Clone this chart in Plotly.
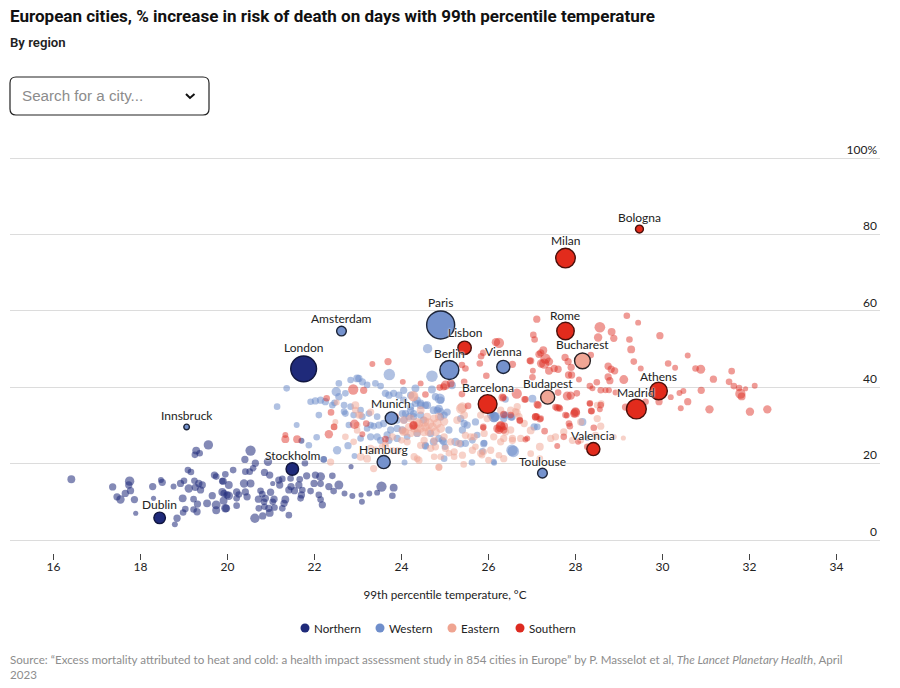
import math
import plotly.graph_objects as go

# Rows are (99th percentile temperature in C, % increase in risk, population in millions)
north_points = [
(16.41,15.9,.7),(17.36,13.9,.6),(17.75,15.4,1.0),(17.73,14.4,.6),(17.77,12.9,.6),(17.65,12.2,.6),(17.46,11.3,.6),(17.54,10.6,.8),
(17.86,10.6,.6),(17.89,7.0,.3),(18.28,14.0,.6),(18.47,15.7,.4),(18.50,15.1,.6),(18.76,14.0,.4),(18.92,14.8,.6),(19.0,15.5,.5),
(19.09,18.3,.5),(19.16,17.8,.5),(19.28,23.4,.7),(19.36,22.7,.5),(19.25,22.3,.5),(19.56,24.9,1.0),(19.24,15.5,.5),(19.34,14.8,.6),
(19.11,13.5,.8),(19.26,13.8,.6),(19.42,14.4,.6),(19.38,13.1,.6),(18.97,10.9,.7),(19.22,10.7,.5),(19.31,9.4,.6),(19.03,8.1,.5),
(18.98,7.2,.5),(18.84,5.7,.6),(18.79,4.1,.4),(19.22,8.0,.5),(19.30,7.4,.6),(18.30,10.9,.3),(19.53,9.6,.7),(19.65,11.6,.6),
(19.74,9.2,.9),(19.74,7.8,.7),(19.91,10.3,.7),(19.97,8.3,.7),(19.88,12.6,.7),(19.99,11.8,.6),(19.70,17.0,.6),(19.74,16.6,.5),
(19.88,15.4,.5),(19.95,17.2,.5),(20.03,14.4,.7),(20.53,23.4,1.2),(20.40,21.1,.6),(20.64,20.1,.6),(20.93,20.5,.8),(20.13,18.3,.5),
(20.41,17.9,.5),(20.51,17.9,.5),(20.59,18.8,.5),(20.85,17.7,.6),(20.97,17.0,.6),(19.90,15.4,.6),(20.38,14.8,.8),(20.53,14.8,.7),
(21.04,14.8,.3),(21.18,15.7,.6),(21.26,16.0,.5),(21.20,14.4,.6),(21.45,16.1,.5),(21.66,15.9,.5),(21.82,16.8,.6),(22.02,17.0,.6),
(22.14,16.6,.9),(22.41,16.8,.5),(21.99,14.8,.6),(22.14,14.7,.5),(22.33,14.0,.6),(22.56,14.4,.9),(22.44,12.8,.5),(22.69,12.2,.4),
(22.87,11.5,.4),(23.07,11.8,.3),(23.26,12.2,.4),(23.09,10.0,.4),(23.44,12.4,.4),(23.54,14.0,1.2),(23.82,13.7,.7),(23.79,11.6,.5),
(19.92,12.2,.6),(20.03,11.6,.8),(19.95,8.3,.8),(20.21,12.6,.6),(20.26,11.9,.5),(20.41,12.6,.6),(20.21,10.9,.5),(20.21,9.0,.5),
(20.45,11.3,.6),(20.76,12.9,.5),(20.99,12.5,.6),(20.80,12.0,.5),(20.71,10.7,.6),(20.87,10.9,.6),(21.07,10.7,.6),(21.04,10.0,.5),
(21.33,10.6,.7),(21.30,9.6,.6),(21.41,13.1,.6),(21.54,12.9,.6),(21.70,11.8,.6),(21.68,10.9,.5),(21.64,14.4,.6),(21.91,12.8,.5),
(22.10,11.8,.5),(22.14,10.6,.5),(22.18,9.2,.6),(21.72,13.1,.5),(20.84,10.0,.5),(20.72,8.3,.5),(20.85,8.7,.5),(20.95,8.3,.6),
(21.08,8.5,.5),(20.97,7.1,.7),(20.81,6.3,.6),(20.63,5.7,1.0),(21.26,8.3,.5),(21.41,6.5,.5),(21.46,14.0,.6),(21.78,20.1,.5),
(22.21,21.1,.5),(22.84,19.2,.3),(21.70,26.0,.4),
]
west_points = [
(23.72,43.3,1.5),(23.02,42.3,.6),(22.83,41.9,.5),(22.56,41.0,.5),(23.10,41.4,.6),(23.40,41.0,.5),(23.52,40.3,.5),(21.36,39.7,.5),
(22.50,38.8,1.0),(22.56,37.5,.6),(21.91,36.2,.5),(22.02,36.4,.6),(22.14,36.6,.6),(22.25,36.2,.6),(22.46,35.9,.5),(22.68,35.3,.5),
(21.14,34.9,.5),(22.10,32.7,.5),(22.71,33.1,.5),(22.90,32.7,.5),(23.10,32.3,.5),(23.25,33.1,.5),(23.44,32.3,.5),(23.63,38.4,.6),
(23.82,38.4,.6),(23.94,37.9,.6),(24.05,39.2,.6),(24.21,37.9,.6),(24.36,36.6,.6),(24.21,34.9,.6),(24.09,33.1,.6),(23.90,31.4,.6),
(23.59,30.5,.6),(23.36,29.8,.5),(23.21,29.2,.5),(22.79,30.1,.5),(22.68,33.6,.5),(21.59,30.1,.4),(22.05,26.9,.5),(21.87,24.8,.5),
(22.77,24.7,.6),(22.52,23.5,.8),(22.22,21.1,.4),(22.92,22.0,.4),(23.44,27.0,.6),(23.29,27.0,.6),(23.71,26.1,.6),(23.90,26.6,.6),
(24.13,27.0,.5),(24.02,28.8,.6),(24.36,27.9,.6),(24.28,32.3,.6),(24.60,50.1,1.0),(24.70,42.9,1.5),(24.32,39.7,.7),(24.70,39.4,.7),
(24.88,37.0,1.2),(25.16,40.5,.7),(24.44,35.3,.7),(24.59,35.3,.7),(24.74,34.0,.7),(24.86,34.4,.7),(25.05,33.5,.6),(24.90,32.2,.6),
(24.44,32.7,.6),(24.28,33.1,.6),(24.51,31.4,.6),(24.67,27.9,.6),(24.74,25.7,.7),(24.55,24.8,.6),(24.97,25.7,.6),(25.24,25.7,.8),
(25.36,25.2,.6),(25.89,25.2,.6),(25.70,30.9,.6),(26.12,32.2,1.2),(26.35,32.7,.6),(26.54,32.2,.6),(26.54,23.5,1.5),(25.62,20.3,.5),
(24.07,20.3,.4),(25.0,24.4,.5),(27.01,37.0,.7),(26.39,36.8,.5),(26.13,32.2,1.2),(26.39,32.7,.6),(26.52,32.2,.6),(27.05,29.6,.6),
(27.12,29.6,.5),(28.16,30.9,.7),(25.90,25.4,.5),(26.57,23.2,1.5),(25.86,23.2,.5),(26.13,20.2,.4),(28.27,26.6,.3),
(24.44,35.8,.6),(24.55,35.3,.6),(24.32,35.8,.6),(24.90,36.6,.6),(24.78,37.5,.6),(24.90,33.6,.6),(24.98,32.7,.6),(24.82,34.0,.6),
(24.17,32.3,.6),(24.06,31.4,.6),(24.21,34.0,.6),(24.02,33.1,.6),(25.36,31.8,.6),(25.44,30.5,.6),(25.51,30.1,.6),(25.40,28.8,.6),
(25.09,28.8,.6),(24.94,26.1,.6),(24.86,26.6,.6),(25.47,25.3,.6),(25.74,27.5,.5),(25.63,26.1,.5),(24.98,21.3,.5),(24.55,24.6,.6),
(26.12,20.5,.4),(26.16,32.3,1.0),(26.05,32.7,.6),(26.35,31.8,.6),(22.83,34.9,.5),(23.06,34.0,.5),(23.29,30.1,.5),(23.48,30.1,.6),
(23.90,29.2,.6),(23.75,28.8,.6),(23.52,26.1,.6),(23.67,27.5,.6),(23.06,26.6,.5),(22.71,38.4,.5),(22.41,35.3,.5),(22.98,42.3,.7),
(23.21,40.6,.5),(23.71,37.9,.6),(24.05,36.6,.6),
]
east_points = [
(24.27,37.7,1.2),(24.44,34.0,.7),(24.52,31.0,1.2),(24.63,30.5,1.2),(24.40,30.5,.8),(24.29,29.2,.7),(24.44,29.2,.8),(24.55,29.6,.9),
(24.71,29.6,.9),(24.82,30.5,.9),(24.90,29.2,.9),(24.78,28.3,.9),(24.63,28.3,.9),(24.52,28.3,.9),(24.36,28.1,.7),(24.21,27.9,.6),
(24.09,28.3,.6),(24.98,31.0,.8),(24.75,31.8,.7),(24.86,32.3,.7),(24.59,32.3,.7),(25.40,34.7,1.2),(25.44,32.7,.7),(25.13,25.7,.6),
(24.98,27.0,.6),(24.75,26.1,.6),(24.78,24.4,.6),(25.01,24.0,.6),(25.21,23.1,.6),(25.40,22.2,.6),(25.63,23.5,.6),(25.82,22.7,.6),
(26.05,23.5,.6),(26.35,26.6,.6),(26.55,26.1,.6),(26.62,33.6,.6),(26.70,32.3,.6),(26.28,34.0,.6),(26.51,28.8,.6),(26.12,27.0,.6),
(25.90,27.9,.6),(25.67,27.0,.6),(25.32,25.3,.6),(24.29,21.8,.6),(24.40,20.9,.6),(24.86,19.0,.5),(26.35,21.3,.6),(24.13,25.7,.6),
(24.0,26.1,.5),(22.37,20.4,.6),(23.21,21.3,.7),(23.06,21.8,.7),(23.36,18.7,.6),(24.86,19.1,.6),(25.43,19.8,.5),(25.85,22.2,.5),
(22.94,35.3,.7),(23.02,32.7,.6),(23.29,33.5,.6),(22.98,28.7,.5),(22.71,27.0,.5),(22.45,29.6,.5),(22.48,30.9,.4),(23.63,24.4,.6),
(23.79,27.0,.6),(24.02,28.7,.7),(24.05,31.4,.7),(24.21,31.8,.7),(24.27,37.5,1.0),(24.36,30.9,.8),(25.47,27.4,.6),(25.37,34.4,1.2),
(25.28,31.4,.7),(25.59,27.0,.6),(25.70,24.4,.5),(25.89,23.1,.5),(26.0,20.9,.5),(26.65,33.3,.7),(28.50,35.3,.5),(28.59,35.7,.5),
(26.82,30.5,.6),(26.97,28.7,.7),(26.74,26.6,.6),(26.55,26.6,.6),(26.28,25.7,.6),(26.24,22.2,.5),(26.97,22.6,.5),(27.18,24.4,.7),
(27.18,21.3,.5),(27.43,26.6,.6),(27.54,27.0,.6),(27.73,28.3,.6),(27.93,26.1,.6),(28.12,26.1,.5),(28.58,29.8,.6),(28.88,27.0,.4),
(29.10,26.7,.3),(28.12,30.9,.6),(28.50,31.8,.6),(28.46,27.4,.6),(28.31,24.4,.5),(22.51,36.0,.4),(23.91,23.4,.6),
(22.94,34.0,.5),(23.06,32.7,.5),(22.98,30.1,.5),(22.90,25.7,.5),(23.40,23.5,.6),(23.56,24.4,.6),(23.29,24.0,.6),(24.05,28.3,.7),
(24.17,29.6,.7),(24.36,29.2,.7),(23.63,25.3,.5),(23.79,23.5,.5),(24.52,26.1,.6),(24.44,24.8,.6),(24.67,24.0,.6),(24.90,21.8,.5),
(25.09,22.7,.5),(24.36,21.3,.5),(25.21,21.8,.5),(24.75,21.8,.5),(25.90,34.0,.6),(25.82,32.7,.6),(25.97,31.8,.6),(26.51,34.0,.6),
(26.66,34.9,.6),(26.39,28.3,.6),
]
south_points = [
(27.11,57.8,.6),(28.56,55.7,1.3),(28.52,53.0,.8),(28.83,54.5,.7),(28.88,52.8,.6),(29.18,58.7,.5),(29.44,56.9,.4),(29.94,53.5,.6),
(29.24,52.5,.5),(29.28,49.9,.7),(29.34,46.7,.5),(30.13,46.2,.5),(27.03,53.7,.5),(27.06,52.5,.5),(27.26,49.7,.7),(27.20,49.0,.6),
(27.16,48.6,.6),(26.97,46.9,.6),(27.31,47.5,1.2),(27.39,46.7,.8),(27.28,46.2,1.2),(27.21,46.2,.8),(27.51,44.9,.6),(27.60,44.7,.6),
(27.39,44.3,.7),(27.76,47.8,.6),(27.83,46.7,.6),(27.90,45.2,.6),(27.91,43.2,.6),(27.84,43.2,.6),(27.02,44.3,.4),(27.01,42.6,.5),
(28.08,42.0,.4),(28.35,48.4,.5),(28.75,45.5,.6),(28.82,44.7,.6),(28.90,44.3,.6),(28.75,42.7,.6),(28.79,41.7,.6),(28.49,41.3,.5),
(28.33,40.3,.5),(28.39,39.7,.4),(28.58,39.2,.5),(28.77,39.2,.4),(28.69,39.2,.4),(29.11,42.0,.9),(28.92,38.6,.4),(27.81,37.7,.9),
(27.89,37.8,.8),(28.03,38.4,.5),(27.60,38.6,.5),(28.33,35.8,.5),(28.58,35.3,.5),(26.85,36.8,.5),(27.58,34.6,.6),(27.64,34.4,.5),
(28.0,33.6,.9),(27.97,33.1,.8),(27.77,32.7,.5),(28.36,33.8,.5),(27.12,35.5,.6),(27.08,32.3,.6),(29.50,44.9,.4),(30.29,45.1,.4),
(30.58,48.3,.4),(30.76,44.9,.5),(30.88,44.7,.9),(31.17,42.1,.6),(31.59,44.2,.5),(31.53,41.4,.5),(31.64,40.3,.5),(31.76,39.8,.5),
(31.91,39.6,.3),(32.12,40.4,.4),(31.79,38.3,1.2),(31.82,37.6,.7),(30.89,39.2,.6),(30.48,39.0,.4),(30.39,38.5,.4),(30.19,37.4,.4),
(30.58,36.2,.6),(30.42,34.5,.4),(31.08,34.2,.8),(32.01,33.6,.8),(32.41,34.2,.8),(29.92,36.2,.6),(29.61,36.2,.5),(29.15,34.8,.6),
(26.24,51.6,1.2),(26.17,51.8,.8),(26.95,46.9,.5),(25.95,43.0,.5),(26.55,46.0,.6),(26.32,37.3,.7),(26.65,38.3,1.2),(26.83,36.8,.5),
(27.14,35.3,.6),(27.54,34.8,.5),(27.62,34.7,.5),(27.80,32.6,.4),(28.0,33.3,1.0),(28.33,35.7,.4),(28.37,33.7,.5),(28.56,34.2,.4),
(25.88,29.4,.4),(26.28,30.0,.9),(26.36,29.8,.7),(26.20,29.2,.7),(26.72,31.2,.5),(27.08,32.2,.6),(27.20,31.8,.5),(27.29,28.5,.5),
(27.85,30.5,.5),(27.87,29.8,.5),(28.42,29.4,.5),(28.06,25.7,.4),(27.73,27.0,.5),(26.85,26.3,.4),(27.58,24.6,.4),(28.27,24.4,.5),
(23.33,46.1,.4),(23.69,46.7,.6),(24.03,41.4,.4),(22.89,39.4,1.2),(23.13,39.2,.6),(22.28,37.1,.5),(22.38,33.4,.5),(22.92,30.3,1.0),
(23.19,30.5,.5),(23.10,27.7,.4),(22.33,27.7,.8),(22.45,29.6,.5),(21.33,27.5,.4),(21.33,26.4,.7),(21.60,26.4,.7),(23.63,26.4,.5),
(23.86,32.3,.5),(24.28,30.1,.7),(24.55,38.1,.5),(24.44,41.0,.4),(24.88,39.9,.5),(25.01,40.5,1.0),(25.13,41.0,.7),(25.44,41.4,.5),
(25.80,46.2,.5),(25.53,35.1,.5),(26.34,37.3,.5),(26.35,32.9,.6),(26.51,32.7,.5),(26.72,31.4,.5),(25.88,29.6,.5),(26.28,29.6,1.2),
(26.24,28.8,.7),(26.35,28.8,.6),(27.11,32.3,.5),(27.18,31.6,.5),(26.89,26.6,.4),(24.27,29.9,.8),(25.88,49.0,.5),(25.83,48.1,.5),
(25.39,45.8,.5),(25.47,44.9,.5),(24.97,40.1,.6),(25.39,38.2,.5),
]

# Named cities: name, temperature, risk, population in millions
north_cities = [("London",21.75,44.8,8.5),("Stockholm",21.49,18.6,2.0),("Dublin",18.44,5.8,1.7)]
west_cities = [("Paris",24.90,56.3,10.0),("Amsterdam",22.62,54.7,1.2),("Berlin",25.10,44.5,4.6),("Vienna",26.34,45.3,2.2),
               ("Munich",23.77,31.9,2.0),("Innsbruck",19.06,29.6,0.4),("Hamburg",23.59,20.4,2.2),("Toulouse",27.24,17.5,1.2)]
east_cities = [("Bucharest",28.16,46.9,3.2),("Budapest",27.36,37.4,2.5)]
south_cities = [("Bologna",29.47,81.4,0.8),("Milan",27.77,73.8,4.9),("Lisbon",25.45,50.3,2.3),("Rome",27.77,54.7,3.9),
                ("Athens",29.91,39.0,3.9),("Madrid",29.40,34.3,5.0),("Barcelona",25.98,35.6,4.5),("Valencia",28.41,23.8,2.2)]

regions = ["Northern","Western","Eastern","Southern"]
x_ticks = [16,18,20,22,24,26,28,30,32,34]
y_ticks = [0,20,40,60,80,100]
y_tick_labels = ["0","20","40","60","80","100%"]
title_text = "European cities, % increase in risk of death on days with 99th percentile temperature"
subtitle_text = "By region"
x_title = "99th percentile temperature, °C"
source_text = ("Source: “Excess mortality attributed to heat and cold: a health impact assessment study in 854 cities in Europe” "
               "by P. Masselot et al, <i>The Lancet Planetary Health</i>, April<br>2023")

W, H = 900, 688
L, R, T, B = 10, 880, 120, 553
NARROW = "Lato, 'Liberation Sans', sans-serif"
colors = {"Northern":"#1f2a7a","Western":"#6f8ecb","Eastern":"#efa491","Southern":"#dd2a20"}
dot_opacity = {"Northern":0.55,"Western":0.55,"Eastern":0.5,"Southern":0.47}
fills = {"Northern":"#1f2a7a","Western":"#7592cd","Eastern":"#f0a695","Southern":"#e22b1c"}
outlines = {"Northern":"#11163f","Western":"#1c2438","Eastern":"#2a2225","Southern":"#4a0f0a"}

def size_of(pop):
    return 2 * 14 * math.sqrt(pop / 10.0)

def px(x): return (x - L) / (R - L)
def py(y): return (B - y) / (B - T)

fig = go.Figure()
series = [("Northern",north_points,north_cities),("Western",west_points,west_cities),
          ("Eastern",east_points,east_cities),("Southern",south_points,south_cities)]
for name, pts, _ in series:
    fig.add_trace(go.Scatter(x=[p[0] for p in pts], y=[p[1] for p in pts], mode="markers", name=name,
        showlegend=False, cliponaxis=False, hoverinfo="x+y+name",
        marker=dict(color=colors[name], opacity=dot_opacity[name], size=[size_of(p[2])*1.06 for p in pts], line=dict(width=0))))
for name, _, cities in series:
    fig.add_trace(go.Scatter(x=[c[1] for c in cities], y=[c[2] for c in cities], mode="markers", name=name+" cities",
        text=[c[0] for c in cities], showlegend=False, cliponaxis=False,
        marker=dict(color=fills[name], opacity=1, size=[size_of(c[3]) for c in cities], line=dict(width=1.4,color=outlines[name]))))

anns = []
lift = {"Bologna":12,"Milan":18,"Paris":22,"Lisbon":15,"Amsterdam":13,"London":21,"Berlin":17,"Vienna":15,"Rome":16,"Bucharest":16,
        "Athens":15,"Madrid":16,"Budapest":14,"Barcelona":17,"Munich":15,"Innsbruck":11,"Hamburg":13,"Stockholm":13,"Toulouse":12,
        "Valencia":14,"Dublin":13}
for _, _, cities in series:
    for c in cities:
        anns.append(dict(x=c[1], y=c[2], xref="x", yref="y", text=c[0], showarrow=False, yshift=lift[c[0]], xanchor="center", yanchor="middle",
                         font=dict(family=NARROW, size=12, color="#222222", shadow="0 0 2px #ffffff, 0 0 2px #ffffff")))

def note(x, y, text, size, color, family=NARROW, anchor="left", weight="normal"):
    return dict(x=px(x), y=py(y), xref="paper", yref="paper", text=text, showarrow=False, xanchor=anchor, yanchor="middle",
                align="left", font=dict(family=family, size=size, color=color, weight=weight))

anns.append(note(8,16,title_text,17.05,"#111111","Roboto",weight=700))
anns.append(note(8,43,subtitle_text,13.2,"#222222","Roboto",weight=600))
anns.append(note(19.5,95,"Search for a city...",15.2,"#8c8c8c","'Liberation Sans'"))
anns.append(note(8,667,source_text,11.6,"#8d8d8d"))

shapes = []
x0,x1,y0,y1,r = 10,209,77,115,6
pth = (f"M {px(x0+r)} {py(y0)} L {px(x1-r)} {py(y0)} Q {px(x1)} {py(y0)} {px(x1)} {py(y0+r)} L {px(x1)} {py(y1-r)} "
       f"Q {px(x1)} {py(y1)} {px(x1-r)} {py(y1)} L {px(x0+r)} {py(y1)} Q {px(x0)} {py(y1)} {px(x0)} {py(y1-r)} "
       f"L {px(x0)} {py(y0+r)} Q {px(x0)} {py(y0)} {px(x0+r)} {py(y0)} Z")
shapes.append(dict(type="path", path=pth, xref="paper", yref="paper", line=dict(color="#222222",width=1.2), fillcolor="white"))
shapes.append(dict(type="path", path=f"M {px(186)} {py(94)} L {px(190)} {py(98)} L {px(194.5)} {py(94)}", xref="paper", yref="paper",
                   line=dict(color="#111111",width=2)))
legend_x = {"Northern":(305,312),"Western":(380,387),"Eastern":(452,459),"Southern":(520,527)}
for name in regions:
    dx, tx = legend_x[name]
    shapes.append(dict(type="circle", xref="paper", yref="paper", x0=px(dx-4.5), x1=px(dx+4.5), y0=py(628+4.5), y1=py(628-4.5),
                       fillcolor=colors[name], line=dict(width=0)))
    anns.append(note(tx,628,name,11.6,"#222222"))

fig.update_layout(width=W, height=H, margin=dict(l=L, r=W-R, t=T, b=H-B, pad=0), paper_bgcolor="white", plot_bgcolor="white",
    showlegend=False, annotations=anns, shapes=shapes, hovermode="closest",
    xaxis=dict(range=[15,35], tickvals=x_ticks, ticks="outside", ticklen=6, tickwidth=1, tickcolor="#444444", showgrid=False, zeroline=False, showline=False,
               ticklabelstandoff=-3,
               tickfont=dict(family=NARROW,size=12,color="#222222"),
               title=dict(text=x_title, font=dict(family=NARROW,size=11.7,color="#222222"), standoff=17)),
    yaxis=dict(range=[-3.4,109.95], side="right", tickvals=y_ticks, ticktext=y_tick_labels, ticks="", ticklabelposition="inside top",
               showgrid=True, gridcolor="#dcdcdc", gridwidth=1, zeroline=False, showline=False, tickfont=dict(family=NARROW,size=12,color="#222222")))
fig.write_html("out.html", config=dict(displayModeBar=False), post_script="document.body.style.margin='0';")
